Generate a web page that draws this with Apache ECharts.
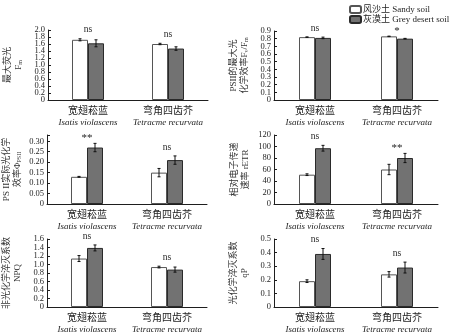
<!DOCTYPE html>
<html><head><meta charset="utf-8">
<script src="https://cdn.jsdelivr.net/npm/echarts@6/dist/echarts.min.js"></script>
<style>html,body{margin:0;padding:0;background:#fff}#c{width:450px;height:334px}</style>
</head><body><div id="c"></div>
<script>
const categories = ['宽翅菘蓝', '弯角四齿芥'];
const categoriesLatin = ['Isatis violascens', 'Tetracme recurvata'];
const seriesNames = ['风沙土 Sandy soil', '灰漠土 Grey desert soil'];

// Fm
const fmSandy = [1.72, 1.60], fmSandyErr = [0.03, 0.02];
const fmGrey = [1.62, 1.47], fmGreyErr = [0.10, 0.05];
const fmSig = ['ns', 'ns'];
const fmTicks = ['0', '0.2', '0.4', '0.6', '0.8', '1.0', '1.2', '1.4', '1.6', '1.8', '2.0'];
// Fv/Fm
const fvfmSandy = [0.82, 0.83], fvfmSandyErr = [0.003, 0.003];
const fvfmGrey = [0.81, 0.80], fvfmGreyErr = [0.01, 0.004];
const fvfmSig = ['ns', '*'];
const fvfmTicks = ['0', '0.1', '0.2', '0.3', '0.4', '0.5', '0.6', '0.7', '0.8', '0.9'];
// PhiPSII
const phiSandy = [0.13, 0.15], phiSandyErr = [0.002, 0.02];
const phiGrey = [0.27, 0.21], phiGreyErr = [0.02, 0.02];
const phiSig = ['**', 'ns'];
const phiTicks = ['0', '0.05', '0.10', '0.15', '0.20', '0.25', '0.30'];
// rETR
const etrSandy = [51, 60], etrSandyErr = [1.5, 9];
const etrGrey = [97, 80], etrGreyErr = [5, 8];
const etrSig = ['ns', '**'];
const etrTicks = ['0', '20', '40', '60', '80', '100', '120'];
// NPQ
const npqSandy = [1.14, 0.94], npqSandyErr = [0.07, 0.02];
const npqGrey = [1.39, 0.88], npqGreyErr = [0.07, 0.06];
const npqSig = ['ns', 'ns'];
const npqTicks = ['0', '0.2', '0.4', '0.6', '0.8', '1.0', '1.2', '1.4', '1.6'];
// qP
const qpSandy = [0.19, 0.24], qpSandyErr = [0.01, 0.02];
const qpGrey = [0.39, 0.29], qpGreyErr = [0.04, 0.04];
const qpSig = ['ns', 'ns'];
const qpTicks = ['0', '0.1', '0.2', '0.3', '0.4', '0.5'];

const yMax = [2.0, 0.9, 0.33, 120, 1.6, 0.5];
const yInterval = [0.2, 0.1, 0.05, 20, 0.2, 0.1];
const yNames = [
  '{t|最大荧光}\n{t|F}{s|m}',
  '{t|PSII的最大光}\n{t|化学效率F}{s|v}{t|/F}{s|m}',
  '{t|PS II实际光化学}\n{t|效率Φ}{s|PSII}',
  '{t|相对电子传递}\n{t|速率 rETR}',
  '{t|非光化学淬灭系数}\n{t|NPQ}',
  '{t|光化学淬灭系数}\n{t|qP}'
];

const panelData = [
  [fmSandy, fmSandyErr, fmGrey, fmGreyErr, fmSig, fmTicks],
  [fvfmSandy, fvfmSandyErr, fvfmGrey, fvfmGreyErr, fvfmSig, fvfmTicks],
  [phiSandy, phiSandyErr, phiGrey, phiGreyErr, phiSig, phiTicks],
  [etrSandy, etrSandyErr, etrGrey, etrGreyErr, etrSig, etrTicks],
  [npqSandy, npqSandyErr, npqGrey, npqGreyErr, npqSig, npqTicks],
  [qpSandy, qpSandyErr, qpGrey, qpGreyErr, qpSig, qpTicks]
];

const gridLayout = [
  {left: 48, top: 30, width: 160, height: 70},
  {left: 274, top: 31, width: 164, height: 69},
  {left: 47, top: 135, width: 160, height: 69},
  {left: 274, top: 135, width: 164, height: 69},
  {left: 47, top: 239, width: 160, height: 70},
  {left: 274, top: 239, width: 164, height: 70}
];

const FONT = '"Liberation Serif", "Noto Sans CJK SC", serif';
const TXT = '#1e1e1e';
const BAR_W = 16;

const grids = [], xAxes = [], yAxes = [], series = [];
panelData.forEach((pd, k) => {
  const [sandy, sandyErr, grey, greyErr, sig, ticks] = pd;
  grids.push(Object.assign({containLabel: false}, gridLayout[k]));
  xAxes.push({
    type: 'category', gridIndex: k, data: categories,
    axisLine: {lineStyle: {color: TXT, width: 1}},
    axisTick: {inside: true, length: 3, lineStyle: {color: TXT}},
    axisLabel: {
      margin: 5, color: TXT, fontFamily: FONT, interval: 0,
      formatter: (v, i) => '{c|' + v + '}\n{l|' + categoriesLatin[i] + '}',
      rich: {
        c: {fontSize: 10, fontFamily: FONT, color: TXT, lineHeight: 12},
        l: {fontSize: 9, fontStyle: 'italic', fontFamily: FONT, color: TXT, lineHeight: 11}
      }
    }
  });
  yAxes.push({
    type: 'value', gridIndex: k, min: 0, max: yMax[k], interval: yInterval[k],
    splitLine: {show: false},
    axisLine: {show: true, lineStyle: {color: TXT, width: 1}},
    axisTick: {show: true, inside: true, length: 3, lineStyle: {color: TXT}},
    axisLabel: {show: false},
    name: yNames[k], nameLocation: 'middle', nameRotate: 90, nameGap: k === 3 ? 23 : 24,
    nameTextStyle: {
      fontFamily: FONT, color: '#333',
      rich: {
        t: {fontSize: 9, fontFamily: FONT, color: '#333', lineHeight: 11},
        s: {fontSize: 6, fontFamily: FONT, color: '#333', lineHeight: 11, padding: [4, 0, 0, 0]}
      }
    }
  });
  // y tick labels
  series.push({
    type: 'custom', xAxisIndex: k, yAxisIndex: k, z: 6, silent: true,
    data: ticks.map(t => [0, parseFloat(t)]),
    renderItem: (params, api) => {
      const v = api.value(1);
      const p = api.coord([0, v]);
      const band = api.size([1, 0])[0];
      return {type: 'text', x: p[0] - band / 2 - 3, y: p[1],
        style: {text: ticks[params.dataIndex], fontSize: 8.5, fontFamily: FONT, fill: TXT,
          align: 'right', verticalAlign: 'middle'}};
    }
  });
  series.push({
    name: seriesNames[0], type: 'bar', xAxisIndex: k, yAxisIndex: k, data: sandy,
    barWidth: BAR_W, barGap: '0%',
    itemStyle: {color: '#ffffff', borderColor: '#555', borderWidth: 1},
    emphasis: {disabled: true}
  });
  series.push({
    name: seriesNames[1], type: 'bar', xAxisIndex: k, yAxisIndex: k, data: grey,
    barWidth: BAR_W, barGap: '0%',
    itemStyle: {color: '#727272', borderColor: '#2a2a2a', borderWidth: 1},
    emphasis: {disabled: true}
  });
  [[sandy, sandyErr, -BAR_W / 2], [grey, greyErr, BAR_W / 2]].forEach(([m, e, off]) => {
    series.push({
      type: 'custom', xAxisIndex: k, yAxisIndex: k, z: 5, silent: true,
      data: m.map((v, i) => [i, v, e[i]]),
      renderItem: (params, api) => {
        const i = api.value(0), v = api.value(1), er = api.value(2);
        const x = api.coord([i, v])[0] + off;
        const yh = api.coord([i, v + er])[1], yl = api.coord([i, v - er])[1];
        const st = {stroke: '#111', lineWidth: 1};
        return {type: 'group', children: [
          {type: 'line', shape: {x1: x, y1: yh, x2: x, y2: yl}, style: st},
          {type: 'line', shape: {x1: x - 1.5, y1: yh, x2: x + 1.5, y2: yh}, style: st},
          {type: 'line', shape: {x1: x - 1.5, y1: yl, x2: x + 1.5, y2: yl}, style: st}
        ]};
      }
    });
  });
  series.push({
    type: 'custom', xAxisIndex: k, yAxisIndex: k, z: 6, silent: true,
    data: sandy.map((v, i) => [i, Math.max(v + sandyErr[i], grey[i] + greyErr[i])]),
    renderItem: (params, api) => {
      const i = api.value(0), top = api.value(1);
      const p = api.coord([i, top]);
      const s = sig[params.dataIndex];
      return {type: 'text', x: p[0], y: p[1] - (s.indexOf('*') >= 0 ? 0 : 4),
        style: {text: s, fontSize: s.indexOf('*') >= 0 ? 11 : 9.5, fontFamily: FONT, fill: TXT,
          align: 'center', verticalAlign: 'bottom'}};
    }
  });
});

const chart = echarts.init(document.getElementById('c'), null, {renderer: 'canvas'});
chart.setOption({
  animation: false,
  backgroundColor: '#fff',
  legend: {
    data: seriesNames, orient: 'vertical', left: 344, top: 0,
    itemWidth: 11, itemHeight: 7, itemGap: 1,
    textStyle: {fontSize: 9, fontFamily: FONT, color: TXT, padding: [0, 0, 0, -3]},
    selectedMode: false
  },
  grid: grids, xAxis: xAxes, yAxis: yAxes, series: series
});
</script></body></html>
